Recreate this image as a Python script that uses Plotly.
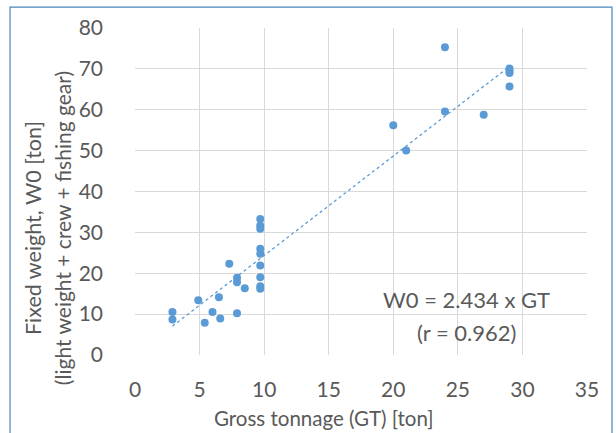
import plotly.graph_objects as go

# Data
gross_tonnage = [2.9, 2.9, 4.9, 5.4, 6.0, 6.5, 6.6, 7.3, 7.9, 7.9, 7.9, 8.5,
                 9.7, 9.7, 9.7, 9.7, 9.7, 9.7, 9.7, 9.7, 9.7,
                 20.0, 21.0, 24.0, 24.0, 27.0, 29.0, 29.0, 29.0, 29.0]
fixed_weight = [10.5, 8.7, 13.4, 7.9, 10.5, 14.1, 8.9, 22.3, 18.9, 17.8, 10.2, 16.3,
                33.3, 31.7, 30.9, 26.0, 24.8, 21.9, 19.0, 16.8, 16.2,
                56.2, 50.0, 75.3, 59.6, 58.8, 70.1, 69.5, 69.0, 65.7]
slope = 2.434
r_value = 0.962
x_ticks = [0, 5, 10, 15, 20, 25, 30, 35]
y_ticks = [0, 10, 20, 30, 40, 50, 60, 70, 80]

FONT = "Lato"
GRAY = "#595959"
BLUE = "#5b9bd5"

trend_x = [min(gross_tonnage), max(gross_tonnage)]
trend_y = [slope * v for v in trend_x]

fig = go.Figure()
fig.add_trace(go.Scatter(
    x=trend_x, y=trend_y, mode="lines",
    line=dict(color=BLUE, width=1.3, dash="dot"),
    hoverinfo="skip", showlegend=False))
fig.add_trace(go.Scatter(
    x=gross_tonnage, y=fixed_weight, mode="markers",
    marker=dict(color=BLUE, size=8, line=dict(width=0)),
    showlegend=False))

fig.update_layout(
    width=616, height=433,
    margin=dict(l=135, r=29, t=28, b=78),
    paper_bgcolor="white", plot_bgcolor="white",
    font=dict(family=FONT, color=GRAY, size=20),
    xaxis=dict(range=[0, 35], tickvals=x_ticks, showgrid=True, gridcolor="#d9d9d9",
               gridwidth=1, zeroline=False, showline=False,
               tickfont=dict(size=21, color=GRAY, family=FONT),
               ticklabelstandoff=20),
    yaxis=dict(range=[0, 80], tickvals=y_ticks, showgrid=True, gridcolor="#d9d9d9",
               gridwidth=1, zeroline=False, showline=False,
               tickfont=dict(size=21, color=GRAY, family=FONT),
               ticklabelstandoff=31),
    shapes=[dict(type="rect", xref="paper", yref="paper",
                 x0=-0.2765, x1=1.0553, y0=-0.3, y1=1.064,
                 line=dict(color="#4a86c0", width=1.2), layer="below")],
    annotations=[
        dict(text="Fixed weight, W0 [ton]", xref="paper", yref="paper",
             x=-0.2257, y=0.388, textangle=-90, showarrow=False,
             xanchor="center", yanchor="middle",
             font=dict(size=21.5, color=GRAY, family=FONT)),
        dict(text="(light weight + crew + fishing gear)", xref="paper", yref="paper",
             x=-0.1615, y=0.388, textangle=-90, showarrow=False,
             xanchor="center", yanchor="middle",
             font=dict(size=21, color=GRAY, family=FONT)),
        dict(text="Gross tonnage (GT) [ton]", xref="paper", yref="paper",
             x=0.418, y=-0.193, showarrow=False,
             xanchor="center", yanchor="middle",
             font=dict(size=20.5, color=GRAY, family=FONT)),
        dict(text=f"W0 = {slope} x GT", xref="x", yref="y",
             x=25.66, y=13.5, showarrow=False, xanchor="center", yanchor="middle",
             font=dict(size=22, color=GRAY, family=FONT)),
        dict(text=f"(r = {r_value})", xref="x", yref="y",
             x=25.66, y=5.6, showarrow=False, xanchor="center", yanchor="middle",
             font=dict(size=22, color=GRAY, family=FONT)),
    ],
)

fig.write_html("out.html",
               config={"displayModeBar": False},
               post_script="document.body.style.margin='0';document.body.style.padding='0';")
